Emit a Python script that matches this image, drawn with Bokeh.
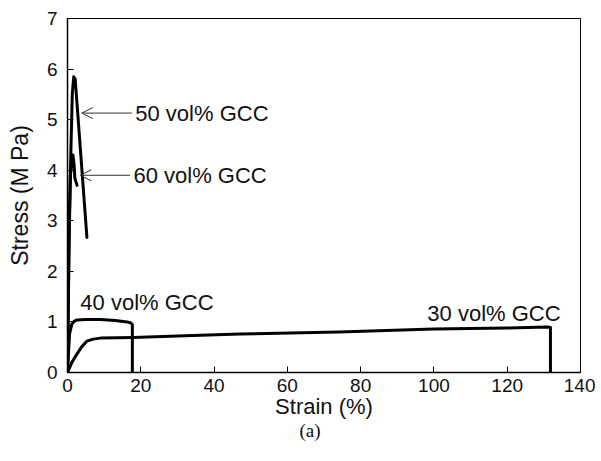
from bokeh.plotting import figure
from bokeh.models import Arrow, OpenHead, Label, Range1d, FixedTicker, Title
from bokeh.embed import file_html
from bokeh.resources import INLINE

# ---- data ----
x_ticks = [0, 20, 40, 60, 80, 100, 120, 140]
y_ticks = [0, 1, 2, 3, 4, 5, 6, 7]

strain_30 = [0, 1.2, 2.6, 4.0, 5.3, 7.0, 9.0, 18.0, 30.0, 47.0, 74.0, 100.0, 120.0, 131.0, 131.8, 131.8]
stress_30 = [0, 0.20, 0.37, 0.52, 0.62, 0.66, 0.68, 0.69, 0.72, 0.76, 0.80, 0.86, 0.88, 0.90, 0.89, 0]

strain_40 = [0, 0.55, 1.2, 1.8, 2.6, 5.0, 9.0, 13.0, 16.3, 17.3, 17.7, 17.7]
stress_40 = [0, 0.76, 0.96, 1.01, 1.04, 1.05, 1.05, 1.03, 1.00, 0.98, 0.95, 0]

strain_50 = [0, 0.5, 0.9, 1.3, 1.7, 2.1, 5.3]
stress_50 = [0, 3.0, 4.3, 5.5, 5.85, 5.8, 2.67]

strain_60 = [0, 0.4, 0.8, 1.2, 1.5, 1.8, 2.0, 2.6]
stress_60 = [0, 2.5, 3.9, 4.2, 4.3, 4.1, 3.85, 3.7]

labels = ["30 vol% GCC", "40 vol% GCC", "50 vol% GCC", "60 vol% GCC"]

FONT = "Liberation Sans"
INK = "#111111"

W, H = 595, 455
p = figure(width=W, height=H, output_backend="svg", toolbar_location=None,
           x_range=Range1d(0, 140), y_range=Range1d(0, 7),
           min_border_left=67, min_border_right=W - 580, min_border_top=18,
           min_border_bottom=H - 372)

p.xgrid.visible = False
p.ygrid.visible = False
p.outline_line_color = "black"
p.outline_line_width = 1

p.xaxis.ticker = FixedTicker(ticks=x_ticks)
p.yaxis.ticker = FixedTicker(ticks=y_ticks)
for ax in (p.xaxis, p.yaxis):
    ax.major_tick_in = 6
    ax.major_tick_out = 0
    ax.minor_tick_line_color = None
    ax.axis_line_width = 1.5
    ax.axis_line_color = "black"
    ax.major_tick_line_color = "black"
    ax.major_label_text_font = FONT
    ax.major_label_text_font_size = "19px"
    ax.major_label_text_color = INK
    ax.axis_label_text_font = FONT
    ax.axis_label_text_font_style = "normal"
    ax.axis_label_text_color = INK

p.xaxis.axis_label = "Strain (%)"
p.yaxis.axis_label = "Stress (M Pa)"
p.xaxis.axis_label_text_font_size = "22px"
p.yaxis.axis_label_text_font_size = "23px"
p.xaxis.major_label_standoff = 6
p.xaxis.axis_label_standoff = -1
p.yaxis.major_label_standoff = 10
p.yaxis.axis_label_standoff = 11

for xs, ys in ((strain_30, stress_30), (strain_40, stress_40),
               (strain_50, stress_50), (strain_60, stress_60)):
    p.line(xs, ys, line_width=3, line_color="black", line_join="round", line_cap="round")

# arrows for 50 / 60 vol%
p.add_layout(Arrow(end=OpenHead(size=11, line_width=1, line_color="#333333"),
                   x_start=17.6, y_start=5.13, x_end=3.9, y_end=5.13,
                   line_width=1, line_color="#333333"))
p.add_layout(Arrow(end=OpenHead(size=11, line_width=1, line_color="#333333"),
                   x_start=17.1, y_start=3.9, x_end=3.5, y_end=3.9,
                   line_width=1, line_color="#333333"))

label_pos = [(98.2, 1.16), (3.5, 1.39), (18.5, 5.13), (18.0, 3.9)]
for text, (lx, ly) in zip(labels, label_pos):
    p.add_layout(Label(x=lx, y=ly, text=text, text_font=FONT, text_font_size="22px",
                       text_color=INK, text_baseline="middle", text_align="left"))

sub = Title(text="(a)", align="left", offset=232, standoff=-7,
            text_font="Liberation Serif", text_font_size="19px",
            text_font_style="normal", text_color=INK)
p.add_layout(sub, "below")

open("out.html", "w").write(file_html(p, INLINE))
